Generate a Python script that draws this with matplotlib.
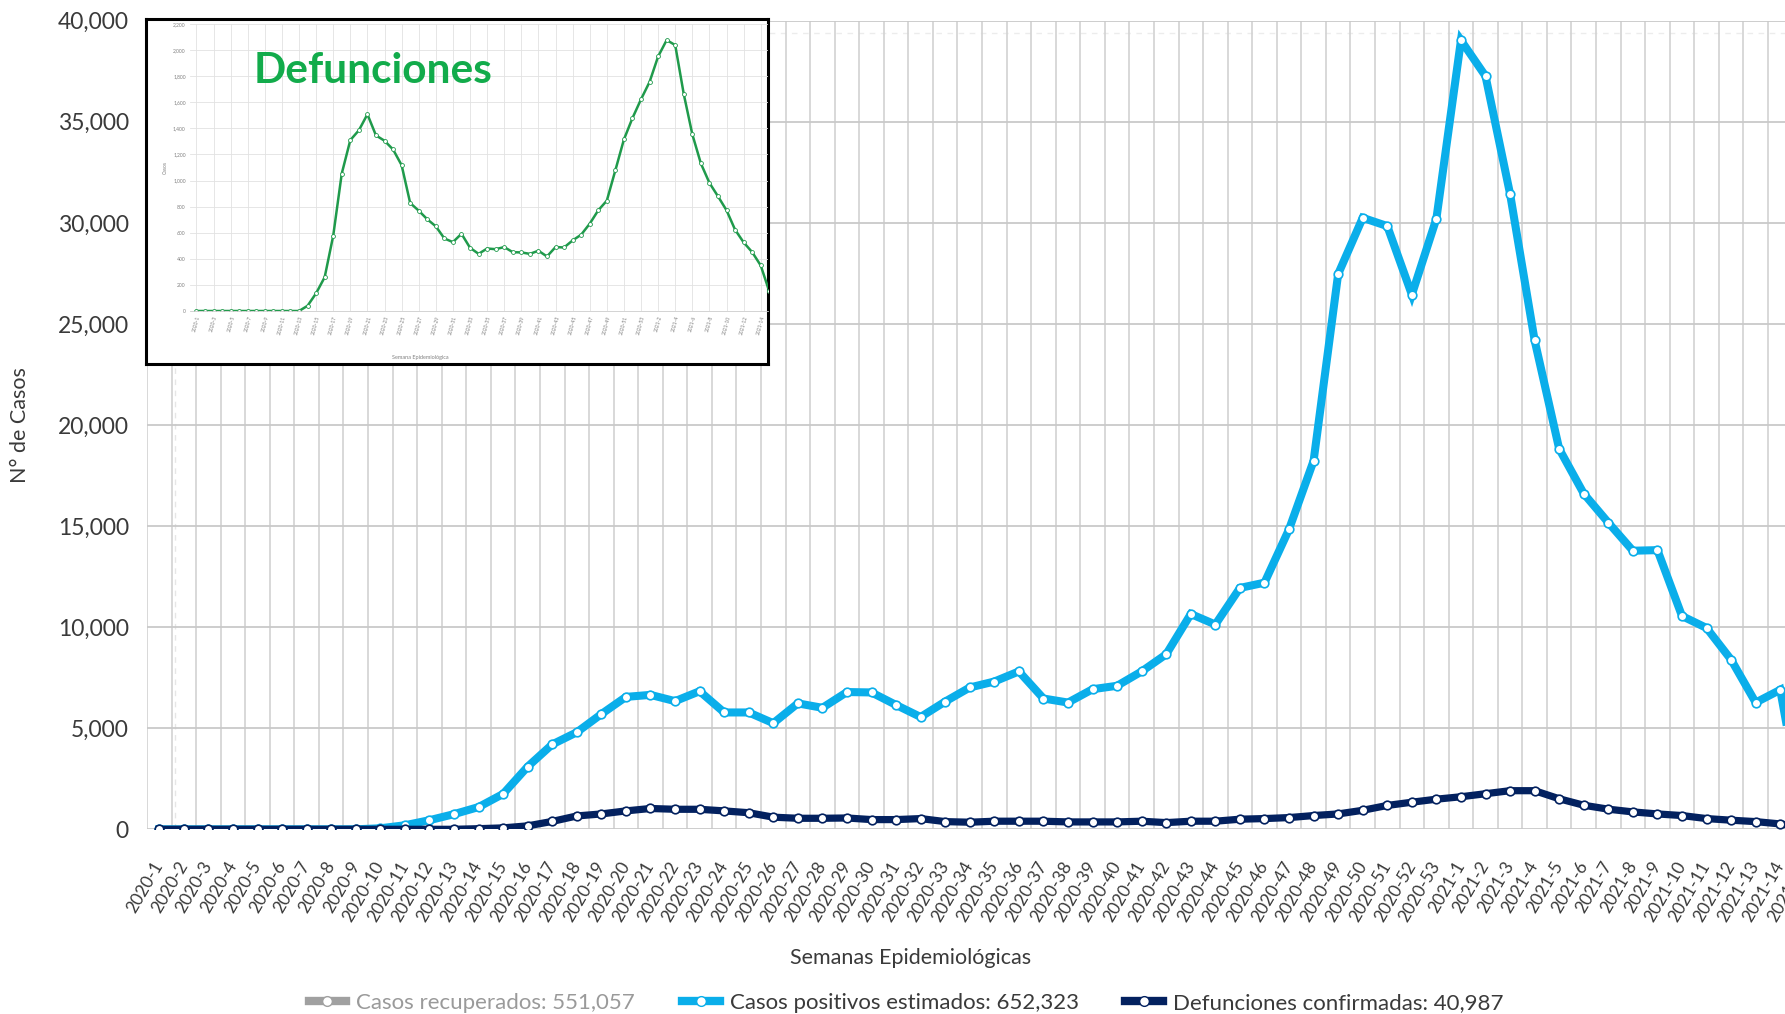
import matplotlib

matplotlib.use("Agg")
import matplotlib.pyplot as plt
import numpy as np
from matplotlib.lines import Line2D
from matplotlib.ticker import FuncFormatter

plt.rcParams["font.family"] = ["Lato", "DejaVu Sans"]

# %% Data
weeks = [f"2020-{i}" for i in range(1, 54)] + [f"2021-{i}" for i in range(1, 16)]

casos_positivos = [
    0, 0, 0, 0, 0, 0, 0, 0, 0, 50,
    200, 450, 750, 1100, 1750, 3100, 4200, 4800, 5700, 6550,
    6650, 6340, 6830, 5780, 5780, 5250, 6230, 6010, 6790, 6770,
    6150, 5555, 6320, 7015, 7310, 7810, 6470, 6270, 6930, 7100,
    7810, 8660, 10650, 10130, 11940, 12200, 14840, 18230, 27470, 30250,
    29840, 26450, 30210, 39030, 37260, 31430, 24185, 18815, 16605, 15170,
    13780, 13810, 10550, 9960, 8390, 6270, 6900, 200,
]

defunciones = [
    0, 0, 0, 0, 0, 0, 0, 0, 0, 0,
    0, 0, 0, 30, 70, 170, 390, 660, 760, 910,
    1030, 990, 990, 910, 820, 600, 545, 545, 560, 480,
    480, 530, 380, 350, 400, 400, 400, 365, 365, 365,
    400, 330, 400, 400, 500, 530, 580, 680, 760, 940,
    1180, 1340, 1490, 1610, 1760, 1910, 1910, 1510, 1190, 995,
    860, 760, 680, 530, 450, 380, 265, 100,
]

# inset "Defunciones" chart (screenshot pasted on top of the main chart)
defunciones_inset = [
    0, 0, 0, 0, 0, 0, 0, 0, 0, 0,
    0, 0, 0, 40, 136, 259, 577, 1054, 1310, 1385,
    1508, 1346, 1305, 1238, 1118, 828, 769, 703, 649, 556,
    528, 592, 485, 438, 479, 474, 490, 451, 449, 438,
    462, 418, 490, 487, 541, 585, 669, 772, 846, 1079,
    1315, 1479, 1623, 1756, 1951, 2077, 2038, 1662, 1354, 1131,
    982, 879, 772, 623, 526, 451, 349, 150,
]

legend_labels = [
    "Casos recuperados: 551,057",
    "Casos positivos estimados: 652,323",
    "Defunciones confirmadas: 40,987",
]

BLUE = "#0aaeea"
NAVY = "#03215f"
GREY = "#9a9a9a"
TXT = "#3a3a3a"
W, H = 1785, 1014

x = np.arange(len(weeks))

# %% Main chart
fig = plt.figure(figsize=(W / 100, H / 100), dpi=100)
ax = fig.add_axes([147 / W, 1 - 829.3 / H, 68 * 24.56 / W, 808.6 / H])
ax.set_xlim(-0.5, len(weeks) - 0.5)
ax.set_ylim(0, 40000)

ax.plot(x, casos_positivos, color=BLUE, lw=5.8, marker="o", ms=6.2,
        mfc="white", mec=BLUE, mew=1.2, zorder=3, solid_joinstyle="miter")
ax.plot(x, defunciones, color=NAVY, lw=5.2, marker="o", ms=6.2,
        mfc="white", mec=NAVY, mew=1.2, zorder=4)

ax.set_yticks(np.arange(0, 40001, 5000))
ax.yaxis.set_major_formatter(FuncFormatter(lambda v, p: f"{int(v):,}"))
ax.set_xticks(x)
ax.set_xticklabels(weeks, rotation=60, ha="right", va="center",
                   rotation_mode="anchor", fontsize=12.5, color=TXT)
ax.set_xticks(np.arange(-0.5, len(weeks)), minor=True)
ax.tick_params(axis="y", length=0, pad=13, labelsize=16.5, labelcolor=TXT)
ax.tick_params(axis="x", which="both", length=0, pad=24)
ax.grid(axis="x", which="minor", color="#d2d2d2", lw=1.2)
ax.grid(axis="y", which="major", color="#c9c9c9", lw=1.3)
ax.axhline(39400, color="#ececec", lw=1, ls=(0, (4, 4)), zorder=1)
ax.axvline(0.65, color="#e6e6e6", lw=1, ls=(0, (4, 4)), zorder=1)
for s in ax.spines.values():
    s.set_visible(False)

fig.text(20 / W, 1 - 425 / H, "N° de Casos", rotation=90, ha="center",
         va="center", fontsize=15.5, color=TXT)
fig.text(911 / W, 1 - 958 / H, "Semanas Epidemiológicas", ha="center",
         va="center", fontsize=15.5, color=TXT)

handles = [
    Line2D([], [], color="#a0a0a0", lw=6, marker="o", ms=7, mfc="white", mec="#a0a0a0"),
    Line2D([], [], color=BLUE, lw=6, marker="o", ms=7, mfc="white", mec=BLUE),
    Line2D([], [], color=NAVY, lw=6, marker="o", ms=7, mfc="white", mec=NAVY),
]
leg = fig.legend(handles, legend_labels, loc="center", ncol=3,
                 bbox_to_anchor=(906 / W, 1 - 1003 / H), frameon=False,
                 fontsize=16, handlelength=1.7, handletextpad=0.45,
                 columnspacing=2.1)
for t, c in zip(leg.get_texts(), [GREY, TXT, TXT]):
    t.set_color(c)

# %% Inset screenshot
frame = fig.add_axes([146 / W, 1 - 364 / H, 622 / W, 345 / H], zorder=5)
frame.set_facecolor("white")
frame.set_xticks([])
frame.set_yticks([])
for s in frame.spines.values():
    s.set_color("black")
    s.set_linewidth(2.2)
    s.set_zorder(10)

ins = fig.add_axes([190 / W, 1 - 311 / H, 578 / W, 287 / H], zorder=6)
ins.patch.set_alpha(0)
xi = np.arange(len(defunciones_inset))
ins.plot(xi, defunciones_inset, color="#1f9a4b", lw=1.8, marker="o", ms=2.8,
         mfc="white", mec="#1f9a4b", mew=0.6)
ins.set_xlim(-0.75, 66.85)
ins.set_ylim(0, 2200)
ins.set_yticks(np.arange(0, 2201, 200))
ins.yaxis.set_major_formatter(FuncFormatter(lambda v, p: f"{int(v):,}"))
ins.set_xticks(xi[:67:2])
ins.set_xticklabels([weeks[i] for i in range(0, 67, 2)], rotation=75,
                    ha="right", va="top", rotation_mode="anchor")
ins.tick_params(length=0, labelsize=3.6, labelcolor="#808080", pad=3)
ins.grid(color="#e2e2e2", lw=0.6)
for s in ins.spines.values():
    s.set_visible(False)
ins.spines["bottom"].set_visible(True)
ins.spines["bottom"].set_color("#cccccc")
ins.spines["bottom"].set_linewidth(0.6)
ins.set_ylabel("Casos", fontsize=3.6, color="#808080", labelpad=4)
fig.text(420 / W, 1 - 358 / H, "Semana Epidemiológica", ha="center",
         va="center", fontsize=4, color="#808080", zorder=7)
fig.text(373 / W, 1 - 71 / H, "Defunciones", ha="center", va="center",
         fontsize=30.5, fontweight="bold", color="#12ab4b", zorder=7)

fig.savefig("out.png", dpi=100)
